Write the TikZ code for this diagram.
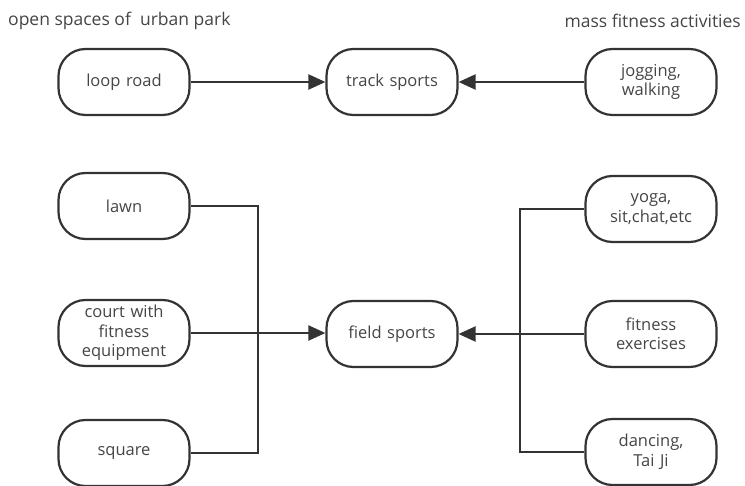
\documentclass[tikz,border=0pt]{standalone}
\usepackage{fontspec}
\setmainfont{Open Sans}
\usetikzlibrary{arrows.meta}
\definecolor{ink}{HTML}{333333}
\definecolor{txt}{HTML}{454545}
\tikzset{
  box/.style={draw=ink, line width=2.2pt, rounded corners=27pt, minimum width=131pt, minimum height=66pt,
    text width=125pt, align=center, inner sep=0pt, font=\fontsize{16.5}{19.5}\selectfont, text=txt},
  conn/.style={draw=ink, line width=2.2pt},
  arr/.style={conn, -{Triangle[length=17pt,width=15pt]}},
  title/.style={font=\fontsize{17.5}{20}\selectfont, text=txt, inner sep=0pt}
}
\begin{document}
\begin{tikzpicture}[x=1pt,y=-1pt]
\useasboundingbox (0,0) rectangle (745,486);
\node[title, anchor=west] (t1) at (8,21) {open spaces of\ \ urban park};
\node[title, anchor=east] (t2) at (741,21) {mass fitness activities};

\node[box] (loop) at (124,82) {loop road};
\node[box] (track) at (392,82) {track sports};
\node[box] (jog) at (651,82) {jogging,\\walking};

\node[box] (lawn) at (124,206) {lawn};
\node[box] (court) at (124,333) {court with\\fitness\\equipment};
\node[box] (square) at (124,453) {square};
\node[box] (field) at (392,334) {field sports};
\node[box] (yoga) at (651,209) {yoga,\\sit,chat,etc};
\node[box] (fit) at (651,334) {fitness\\exercises};
\node[box] (dance) at (651,452) {dancing,\\Tai Ji};

\coordinate (jl) at (258,333);
\coordinate (jr) at (520,334);

\draw[arr] (loop) -- (track);
\draw[arr] (jog) -- (track);

\draw[conn] (lawn.east) -| (jl);
\draw[conn] (square.east) -| (jl);
\draw[arr] (court.east) -- (field.west |- court.east);

\draw[conn] (yoga.west) -| (jr);
\draw[conn] (dance.west) -| (jr);
\draw[arr] (fit.west) -- (field.east);
\end{tikzpicture}
\end{document}
